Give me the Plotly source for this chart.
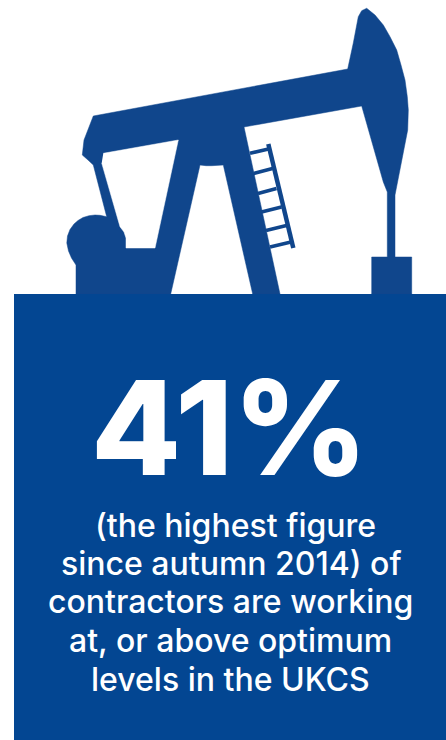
import plotly.graph_objects as go

# Headline figure and caption
contractor_share = 41
caption_lines = [
    "(the highest figure",
    "since autumn 2014) of",
    "contractors are working",
    "at, or above optimum",
    "levels in the UKCS",
]
caption_x = [235.5, 231, 230.5, 230, 230.5]
caption_y = [537, 575, 613, 652, 691]

# Pump jack silhouette, in page units
jack_x = [93.3, 347.7, 353.3, 358.3, 361.7, 366.7, 375, 383.3, 390, 396.7, 401, 405, 407.3, 408.3, 407.7, 405, 401.7, 398.3, 395,
          395, 411.7, 411.7, 371.7, 371.7, 387.3, 387.3, 383.3, 361.7, 244, 280, 252.7, 223.3, 217, 211.7, 206, 200,
          170.7, 76, 76, 71.5, 68.5, 66.8, 67.5, 70, 74, 78, 83, 89, 95, 100, 106.7, 93.3, 88, 82.3, 84, 93.3]
jack_y = [116, 69, 43, 16.7, 10.7, 8.3, 15, 25, 36.7, 50, 65, 80, 96.7, 110, 130, 143.3, 163.3, 176.7, 195,
          257, 257, 294, 294, 257, 257, 192, 182, 106, 127, 294, 294, 165, 165.7, 165.7, 165.7, 165,
          294, 294, 265, 258, 251, 243, 236, 229.5, 224, 220.5, 217.5, 215.7, 215, 215.3, 216.7, 165, 160, 155, 140, 116]

# Opening between the beam, the leg and the counterweight
gap_x = [103.3, 178.3, 155, 126, 126, 124, 120, 101.7]
gap_y = [153.3, 140, 248, 248, 238, 232, 226.7, 163]

# Ladder fixed to the leg: one rail and six rungs
rail_x = [268.3, 293.3]
rail_y = [144, 248]
rung_x = [250, 268.5, None, 253.5, 272.5, None, 258, 276.5, None, 261.5, 281.5, None, 266, 286.5, None, 270, 291]
rung_y = [153.3, 149, None, 173.5, 168.5, None, 193.5, 188.5, None, 212, 207, None, 230.5, 225.5, None, 247, 242]

# Caption panel
panel_x = [14, 446, 446, 14, 14]
panel_y = [294, 294, 740, 740, 294]

JACK_BLUE = "#10468c"
PANEL_BLUE = "#034692"
FONT = "Inter"

fig = go.Figure()
fig.add_trace(go.Scatter(x=jack_x, y=jack_y, mode="lines", fill="toself", fillcolor=JACK_BLUE,
                         line=dict(color=JACK_BLUE, width=0.5)))
fig.add_trace(go.Scatter(x=gap_x, y=gap_y, mode="lines", fill="toself", fillcolor="white",
                         line=dict(color="white", width=0.5)))
fig.add_trace(go.Scatter(x=rail_x, y=rail_y, mode="lines", line=dict(color=JACK_BLUE, width=4.5)))
fig.add_trace(go.Scatter(x=rung_x, y=rung_y, mode="lines", line=dict(color=JACK_BLUE, width=3.5)))
fig.add_trace(go.Scatter(x=panel_x, y=panel_y, mode="lines", fill="toself", fillcolor=PANEL_BLUE,
                         line=dict(color=PANEL_BLUE, width=0)))

fig.add_annotation(x=229.5, y=484, text=f"{contractor_share}%", showarrow=False, yanchor="bottom",
                   xanchor="center", yshift=-25, font=dict(family=FONT, size=131, color="white", weight=800))
for line, x, y in zip(caption_lines, caption_x, caption_y):
    fig.add_annotation(x=x, y=y, text=line, showarrow=False, xanchor="center", yanchor="bottom", yshift=-10,
                       font=dict(family=FONT, size=32, color="white", weight=500))

fig.update_layout(
    width=446, height=740, autosize=False, showlegend=False,
    margin=dict(l=0, r=0, t=0, b=0), paper_bgcolor="white", plot_bgcolor="white",
    xaxis=dict(range=[0, 446], visible=False, fixedrange=True),
    yaxis=dict(range=[740, 0], visible=False, fixedrange=True),
)
fig.write_html("out.html", config=dict(displayModeBar=False))
